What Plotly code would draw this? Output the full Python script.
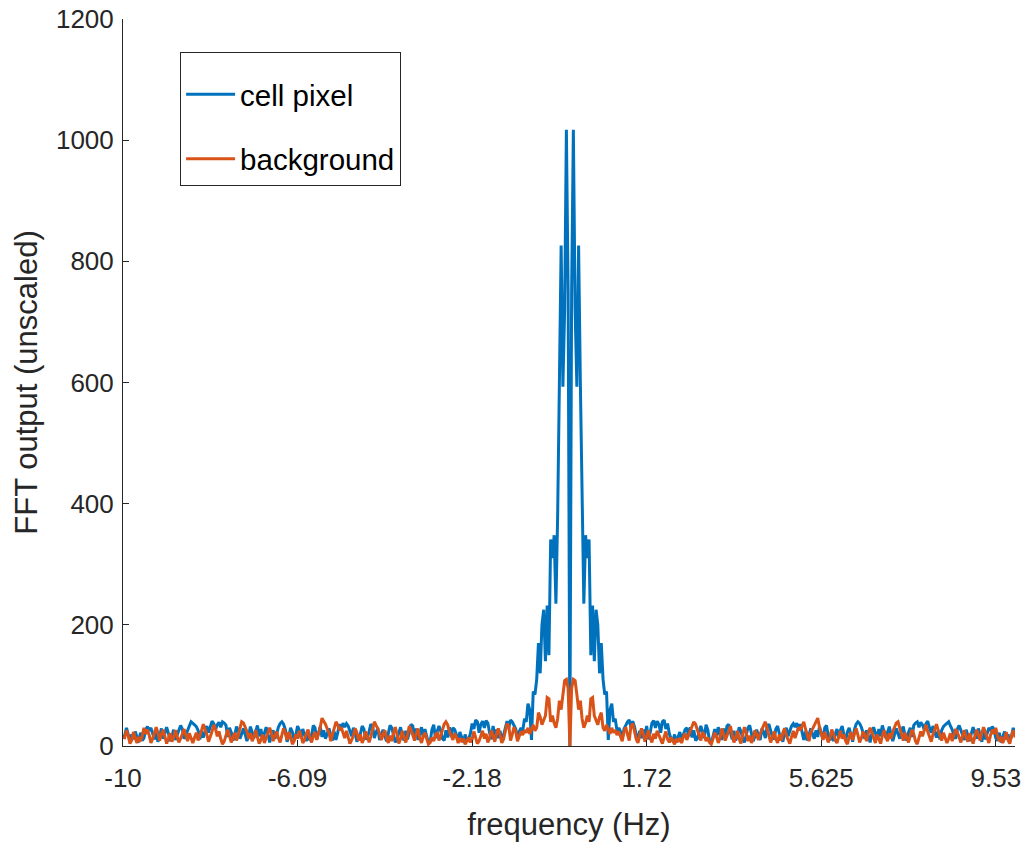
import numpy as np
import plotly.graph_objects as go

# FFT bins: N = 512 samples, fs = 20 Hz -> frequencies -10 ... 9.961 Hz
N_SAMPLES = 512
FS = 20.0
freq = np.fft.fftshift(np.fft.fftfreq(N_SAMPLES, d=1.0 / FS))

# Magnitude values for the non-negative frequencies
# (bin 0 = DC ... bin 255); spectrum of a real signal is symmetric.
cell_center = [0, 750, 1017, 720, 593, 826, 600, 380, 235, 348, 310, 341, 150, 232, 140,
               225, 200, 120, 170, 110, 85, 90, 10, 60, 70, 40, 45, 25, 30]
cell_floor = [
    24, 12, 28, 34, 40, 43, 30, 41, 32, 18, 10, 25, 13, 27, 17, 33, 11, 22, 38, 42,
    30, 41, 36, 22, 40, 43, 28, 37, 20, 12, 8, 19, 6, 15, 23, 10, 18, 27, 30, 16,
    31, 14, 26, 9, 12, 25, 33, 24, 13, 35, 27, 8, 5, 16, 28, 14, 31, 20, 10, 29,
    15, 33, 36, 22, 11, 25, 9, 18, 31, 24, 12, 6, 19, 30, 34, 21, 8, 16, 27, 17,
    10, 29, 23, 13, 32, 36, 24, 15, 11, 28, 33, 20, 14, 7, 22, 30, 16, 25, 33, 37,
    31, 38, 26, 36, 22, 10, 24, 9, 18, 29, 20, 12, 26, 15, 32, 21, 11, 30, 34, 17,
    9, 25, 8, 19, 28, 13, 26, 33, 18, 10, 23, 30, 16, 7, 27, 36, 40, 37, 31, 19,
    12, 26, 17, 6, 21, 31, 22, 11, 28, 16, 34, 24, 13, 23, 32, 18, 8, 19, 29, 20,
    12, 26, 32, 17, 9, 23, 30, 15, 34, 38, 40, 31, 39, 35, 27, 37, 41, 30, 22, 33,
    24, 14, 25, 11, 26, 32, 35, 38, 40, 33, 27, 18, 12, 28, 34, 26, 17, 10, 27, 15,
    8, 21, 31, 20, 12, 29, 16, 7, 24, 11, 20, 30, 25, 32, 27, 13, 9, 22, 6, 14,
    24, 11, 19, 8, 16, 30, 18]
cell_nyquist = 12

bg_center = [0, 95, 110, 108, 85, 60, 75, 45, 30, 38, 50, 40, 78, 80, 50, 42, 35, 48, 55,
             30, 25, 35, 28, 20, 30, 22, 26, 18, 24]
bg_floor = [
    16, 8, 24, 31, 19, 9, 33, 37, 25, 11, 5, 18, 29, 21, 7, 15, 26, 13, 6, 20,
    12, 25, 18, 8, 4, 15, 24, 11, 6, 14, 9, 3, 12, 7, 13, 5, 15, 21, 10, 18,
    24, 35, 40, 36, 28, 17, 9, 23, 18, 8, 14, 6, 3, 12, 22, 16, 5, 13, 29, 20,
    9, 17, 27, 33, 18, 6, 14, 25, 12, 4, 19, 31, 22, 8, 17, 5, 13, 26, 19, 10,
    20, 29, 34, 40, 30, 16, 6, 14, 24, 12, 5, 19, 9, 22, 29, 17, 10, 4, 15, 25,
    13, 21, 31, 26, 35, 40, 28, 18, 8, 22, 28, 36, 42, 46, 31, 19, 10, 23, 16, 6,
    14, 27, 20, 10, 5, 17, 25, 12, 19, 8, 3, 15, 23, 10, 21, 29, 18, 6, 13, 24,
    17, 8, 22, 30, 23, 14, 5, 19, 10, 4, 17, 26, 15, 8, 21, 12, 24, 32, 38, 40,
    29, 17, 9, 22, 14, 6, 17, 27, 20, 8, 3, 12, 24, 16, 28, 35, 24, 14, 7, 19,
    29, 36, 26, 16, 9, 22, 14, 5, 12, 21, 8, 18, 28, 22, 12, 6, 17, 26, 14, 7,
    21, 12, 4, 16, 27, 19, 9, 22, 31, 23, 12, 5, 18, 27, 20, 30, 16, 8, 15, 5,
    13, 23, 10, 4, 17, 26, 14]
bg_nyquist = 15

x_tick_vals = [-10, -6.09375, -2.1875, 1.71875, 5.625, 9.53125]
x_tick_text = ["-10", "-6.09", "-2.18", "1.72", "5.625", "9.53"]
y_tick_vals = [0, 200, 400, 600, 800, 1000, 1200]


def full_spectrum(center, floor, nyq):
    pos = list(center) + list(floor)          # bins 0 .. 255
    return [nyq] + pos[:0:-1] + pos           # -Nyquist, negative bins, DC, positive bins


cell = full_spectrum(cell_center, cell_floor, cell_nyquist)
background = full_spectrum(bg_center, bg_floor, bg_nyquist)

BLUE = "#0072BD"
ORANGE = "#D95319"
AX = "#262626"
FONT = "Liberation Sans, Arial, sans-serif"

fig = go.Figure()
fig.add_trace(go.Scatter(x=freq, y=cell, mode="lines", name="cell pixel",
                         line=dict(color=BLUE, width=3), legendgroup="a"))
fig.add_trace(go.Scatter(x=freq, y=background, mode="lines", name="background",
                         line=dict(color=ORANGE, width=3), legendgroup="b"))

fig.update_layout(
    width=1029, height=846, autosize=False,
    margin=dict(l=123, r=14, t=19, b=100),
    paper_bgcolor="white", plot_bgcolor="white",
    font=dict(family=FONT, color=AX, size=26),
    showlegend=True,
    legend=dict(x=0.064, y=0.9546, xanchor="left", yanchor="top",
                bordercolor=AX, borderwidth=1, bgcolor="white",
                font=dict(size=29.5, color="#000000"),
                title=dict(text=" ", font=dict(size=12)),
                traceorder="grouped", tracegroupgap=23, itemwidth=49),
)
fig.update_xaxes(range=[-10, freq[-1]], tickvals=x_tick_vals, ticktext=x_tick_text,
                 showgrid=False, zeroline=False, showline=True, linecolor=AX, linewidth=1,
                 ticks="inside", ticklen=6, tickcolor=AX, ticklabelstandoff=9,
                 tickfont=dict(size=26, color=AX), automargin=False,
                 title=dict(text="frequency (Hz)", font=dict(size=31, color=AX), standoff=21))
fig.update_yaxes(range=[0, 1200], tickvals=y_tick_vals,
                 showgrid=False, zeroline=False, showline=True, linecolor=AX, linewidth=1,
                 ticks="inside", ticklen=6, tickcolor=AX, ticklabelstandoff=3,
                 tickfont=dict(size=26, color=AX), automargin=False,
                 title=dict(text="FFT output (unscaled)", font=dict(size=31, color=AX), standoff=9))

fig.write_html("out.html")
